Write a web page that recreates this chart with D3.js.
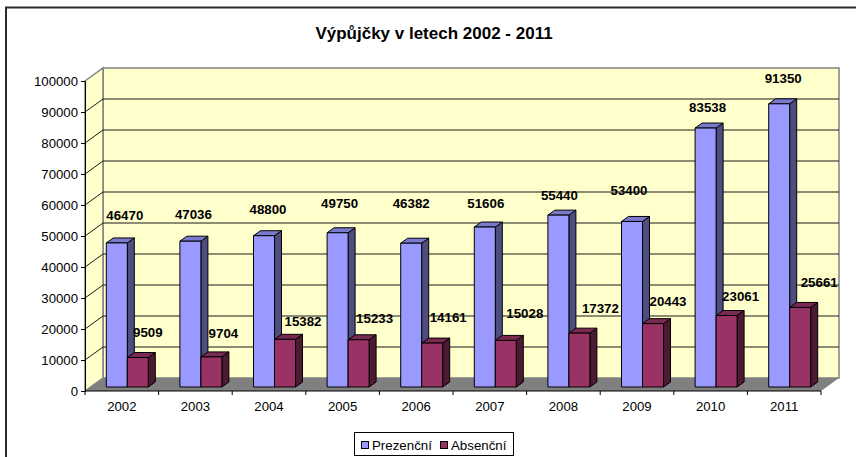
<!DOCTYPE html>
<html>
<head>
<meta charset="utf-8">
<script src="https://cdn.jsdelivr.net/npm/d3@7"></script>
<style>
  body { margin: 0; background: #fff; }
  svg { display: block; }
  text { font-family: "Liberation Sans", Arial, sans-serif; fill: #000; }
</style>
</head>
<body>
<div id="chart-area"></div>
<script>
const years = ["2002", "2003", "2004", "2005", "2006", "2007", "2008", "2009", "2010", "2011"];
const prezencni = [46470, 47036, 48800, 49750, 46382, 51606, 55440, 53400, 83538, 91350];
const absencni = [9509, 9704, 15382, 15233, 14161, 15028, 17372, 20443, 23061, 25661];
const yTicks = [0, 10000, 20000, 30000, 40000, 50000, 60000, 70000, 80000, 90000, 100000];

// data labels were placed by hand in the original, so each one has its own nudge from its bar
const prezencniNudgeX = [-3, -8, -7, -9, -11, -10, -10, -14, -9, -7];
const prezencniNudgeY = [-28, -27, -26, -29, -40, -24, -20, -31.5, -21, -25];
const absencniNudgeX = [20, 22, 28, 26, 26, 29, 31, 25, 24, 29];
const absencniNudgeY = [-25.5, -24, -18, -21, -26, -27, -25, -22, -19.5, -25.5];

const width = 856, height = 457;
// front plane of the 3d box
const plot = { left: 85, right: 821, bottom: 391, top: 81 };
// depth of the box and of a single bar
const depth = { x: 18, y: -13 };
const barDepth = { x: 7, y: -5 };
const barOffset = { x: 5.5, y: -4 };

const svg = d3
  .select("#chart-area")
  .append("svg")
  .attr("width", width)
  .attr("height", height);

// Scales
const xScale = d3.scaleBand().domain(years).range([plot.left, plot.right]);
const yScale = d3.scaleLinear().domain([0, 100000]).range([plot.bottom, plot.top]);
const barWidth = 21;

const poly = pts => pts.map(p => p.join(",")).join(" ");

// Chart frame, cut off by the picture on the right and at the bottom
svg
  .append("path")
  .attr("d", "M6,457V7.5H856")
  .attr("fill", "none")
  .attr("stroke", "#2b2b2b")
  .attr("stroke-width", 2);

// Walls
const wallLeft = plot.left + depth.x,
  wallRight = plot.right + depth.x;
const wallTop = plot.top + depth.y,
  wallBottom = plot.bottom + depth.y;

svg
  .append("polygon")
  .attr("points", poly([[wallLeft, wallTop], [wallRight, wallTop], [wallRight, wallBottom], [wallLeft, wallBottom]]))
  .attr("fill", "#ffffcc")
  .attr("stroke", "#808080")
  .attr("stroke-width", 1.5);

svg
  .append("polygon")
  .attr("points", poly([[plot.left, plot.top], [wallLeft, wallTop], [wallLeft, wallBottom], [plot.left, plot.bottom]]))
  .attr("fill", "#ffffcc")
  .attr("stroke", "#808080")
  .attr("stroke-width", 1.5);

// Floor
svg
  .append("polygon")
  .attr("points", poly([[plot.left, plot.bottom], [wallLeft, wallBottom], [wallRight, wallBottom], [plot.right, plot.bottom]]))
  .attr("fill", "#808080");

// Gridlines
const grid = yTicks.filter(d => d > 0 && d < 100000);
svg
  .append("g")
  .selectAll("path")
  .data(grid)
  .enter()
  .append("path")
  .attr("d", d => {
    const y = yScale(d);
    return `M${plot.left},${y}L${wallLeft},${y + depth.y}H${wallRight}`;
  })
  .attr("fill", "none")
  .attr("stroke", "#1a1a1a")
  .attr("stroke-width", 1);

// Axes
const yAxisCall = d3.axisLeft(yScale).tickValues(yTicks).tickFormat(d3.format("d")).tickSize(4).tickPadding(3);
svg
  .append("g")
  .attr("class", "y axis")
  .attr("transform", "translate(" + plot.left + ",0)")
  .call(yAxisCall)
  .call(g => g.selectAll("path,line").attr("stroke", "#000"))
  .call(g => g.selectAll("text").attr("font-size", "13.2px").attr("fill", "#000"));

const xAxisCall = d3.axisBottom(xScale).tickSize(0).tickPadding(11);
const xAxisGroup = svg
  .append("g")
  .attr("class", "x axis")
  .attr("transform", "translate(0," + plot.bottom + ")")
  .call(xAxisCall)
  .call(g => g.selectAll("path").attr("stroke", "#000").attr("d", `M${plot.left},0H${plot.right}`))
  .call(g => g.selectAll("text").attr("font-size", "13.2px").attr("fill", "#000"));

// category separators on the x axis
xAxisGroup
  .selectAll("line.sep")
  .data(d3.range(years.length + 1))
  .enter()
  .append("line")
  .attr("class", "sep")
  .attr("x1", i => plot.left + (i * (plot.right - plot.left)) / years.length)
  .attr("x2", i => plot.left + (i * (plot.right - plot.left)) / years.length)
  .attr("y1", 0)
  .attr("y2", 4)
  .attr("stroke", "#000");

// 3d bars, drawn back to front per year
const series = [
  { name: "Prezenční", values: prezencni, nudgeX: prezencniNudgeX, nudgeY: prezencniNudgeY, front: "#9999ff", topFace: "#7a7acc", side: "#4d4d80", shift: -barWidth },
  { name: "Absenční", values: absencni, nudgeX: absencniNudgeX, nudgeY: absencniNudgeY, front: "#993366", topFace: "#7a2952", side: "#4d1a33", shift: 0 }
];

function drawBar(g, x, v, s) {
  const x0 = x,
    x1 = x + barWidth;
  const y0 = yScale(0) + barOffset.y,
    y1 = yScale(v) + barOffset.y;
  const dx = barDepth.x,
    dy = barDepth.y;
  g.append("polygon")
    .attr("points", poly([[x1, y1], [x1 + dx, y1 + dy], [x1 + dx, y0 + dy], [x1, y0]]))
    .attr("fill", s.side);
  g.append("polygon")
    .attr("points", poly([[x0, y1], [x0 + dx, y1 + dy], [x1 + dx, y1 + dy], [x1, y1]]))
    .attr("fill", s.topFace);
  g.append("rect")
    .attr("x", x0)
    .attr("y", y1)
    .attr("width", barWidth)
    .attr("height", y0 - y1)
    .attr("fill", s.front);
  g.selectAll("polygon,rect")
    .attr("stroke", "#000")
    .attr("stroke-width", 1)
    .attr("stroke-linejoin", "round");
}

const bars = svg.append("g").attr("class", "bars");
years.forEach((year, i) => {
  const center = xScale(year) + xScale.bandwidth() / 2 + barOffset.x;
  series.forEach(s => {
    drawBar(bars.append("g"), center + s.shift, s.values[i], s);
  });
});

// Data labels
const labels = svg.append("g").attr("class", "labels");
years.forEach((year, i) => {
  const center = xScale(year) + xScale.bandwidth() / 2 + 6;
  series.forEach(s => {
    labels
      .append("text")
      .attr("x", center + s.nudgeX[i])
      .attr("y", yScale(s.values[i]) + barOffset.y + s.nudgeY[i])
      .attr("dy", "0.35em")
      .attr("text-anchor", "middle")
      .attr("font-size", "13.3px")
      .attr("font-weight", "bold")
      .text(s.values[i]);
  });
});

// Title
svg
  .append("text")
  .attr("x", 434)
  .attr("y", 39)
  .attr("text-anchor", "middle")
  .attr("font-size", "17px")
  .attr("font-weight", "bold")
  .text("Výpůjčky v letech 2002 - 2011");

// Legend
const legend = svg.append("g").attr("class", "legend");
legend
  .append("rect")
  .attr("x", 354.5)
  .attr("y", 432.5)
  .attr("width", 159)
  .attr("height", 23)
  .attr("fill", "#fff")
  .attr("stroke", "#000");

const legendX = [361, 440];
series.forEach((s, i) => {
  legend
    .append("rect")
    .attr("x", legendX[i] + 0.5)
    .attr("y", 441.5)
    .attr("width", 7)
    .attr("height", 7)
    .attr("fill", s.front)
    .attr("stroke", "#000");
  legend
    .append("text")
    .attr("x", legendX[i] + 11)
    .attr("y", 450)
    .attr("font-size", "13.3px")
    .text(s.name);
});
</script>
</body>
</html>
